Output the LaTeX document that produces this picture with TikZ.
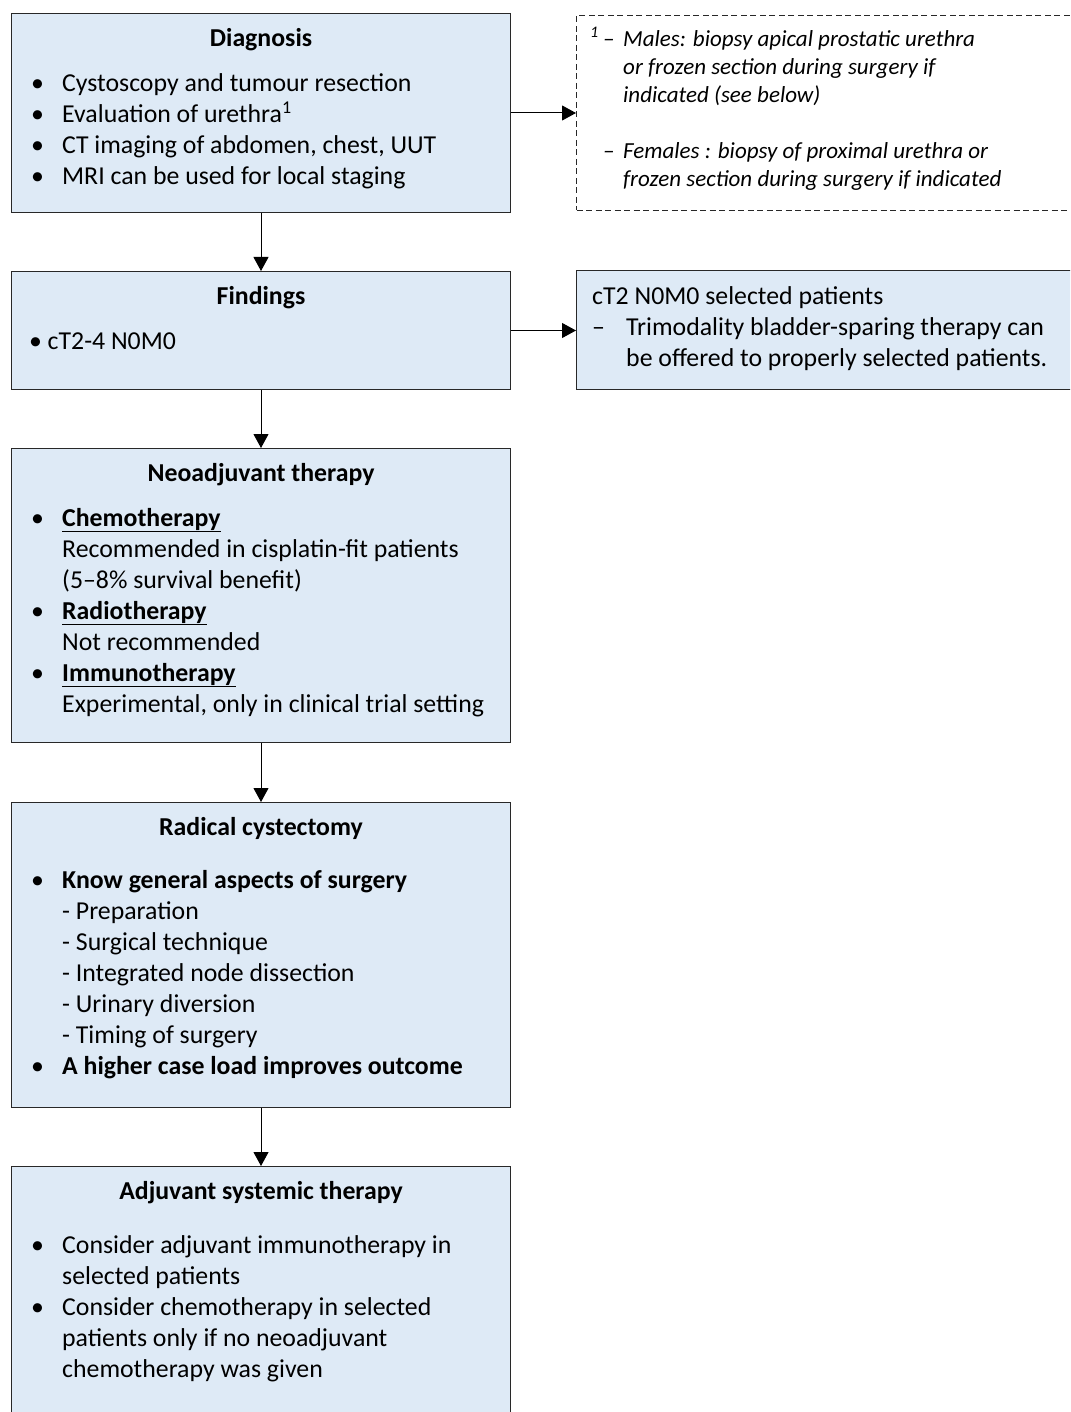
\documentclass[tikz,border=0pt]{standalone}
\usepackage{fontspec}
\setmainfont{Carlito}
\usepackage{tikz}
\usetikzlibrary{arrows.meta}

\definecolor{boxblue}{RGB}{222,234,246}
\definecolor{boxline}{RGB}{40,40,40}
\newcommand{\bul}[1]{\makebox[31pt][l]{\textbullet}#1}
\newcommand{\ind}{\hspace*{31pt}}

\begin{document}
\begin{tikzpicture}[x=1pt,y=-1pt,
    box/.style={draw=boxline, fill=boxblue, line width=1pt, anchor=north west, inner sep=0pt},
    notebox/.style={draw=boxline, line width=1pt, dash pattern=on 6pt off 3.5pt, anchor=north west, inner sep=0pt},
    title/.style={font=\fontsize{25.8}{31}\selectfont\bfseries, anchor=base},
    body/.style={font=\fontsize{25.8}{31}\selectfont, align=left, anchor=north west, inner sep=0pt},
    arr/.style={-{Triangle[length=14pt,width=15pt]}, line width=1pt}]

        \useasboundingbox (0,0) rectangle (1070,1412);
        \clip (0,0) rectangle (1070,1412);

        % boxes of the main column
        \node[box, minimum width=499pt, minimum height=199pt] (diag) at (11,13) {};
        \node[box, minimum width=499pt, minimum height=118pt] (find) at (11,271) {};
        \node[box, minimum width=499pt, minimum height=294pt] (neo) at (11,448) {};
        \node[box, minimum width=499pt, minimum height=305pt] (cyst) at (11,802) {};
        \node[box, minimum width=499pt, minimum height=260pt] (adj) at (11,1166) {};

        % boxes on the right
        \node[notebox, minimum width=510pt, minimum height=195pt] (note) at (576,15) {};
        \node[box, minimum width=510pt, minimum height=119pt] (trimod) at (576,270) {};

        % Diagnosis
        \node[title] (diagtitle) at (261,46.5) {Diagnosis};
        \node[body] (diagtxt) at (31,69.3) {\strut\bul{Cystoscopy and tumour resection}\\
            \bul{Evaluation of urethra\textsuperscript{1}}\\
            \bul{CT imaging of abdomen, chest, UUT}\\
            \bul{MRI can be used for local staging}};

        % footnote
        \node[body, font=\fontsize{23}{28}\selectfont\itshape] (notetxt) at (590,26.4) {\strut\makebox[13pt][l]{\textsuperscript{1}}\makebox[20pt][l]{–}Males: biopsy apical prostatic urethra\\
            \hspace*{33pt}or frozen section during surgery if\\
            \hspace*{33pt}indicated (see below)\\[28pt]
            \hspace*{13pt}\makebox[20pt][l]{–}Females : biopsy of proximal urethra or\\
            \hspace*{33pt}frozen section during surgery if indicated};

        % Findings
        \node[title] (findtitle) at (261,304.5) {Findings};
        \node[body] (findtxt) at (29,327.3) {\strut\makebox[18.5pt][l]{\textbullet}cT2-4 N0M0};

        \node[body] (trimodtxt) at (592,282.3) {\strut cT2 N0M0 selected patients\\
            \makebox[34pt][l]{–}Trimodality bladder-sparing therapy can\\
            \hspace*{34pt}be offered to properly selected patients.};

        % Neoadjuvant therapy
        \node[title] (neotitle) at (261,481.5) {Neoadjuvant therapy};
        \node[body] (neotxt) at (31,504.3) {\strut\bul{\underline{\textbf{Chemotherapy}}}\\
            \ind Recommended in cisplatin-fit patients\\
            \ind (5–8\% survival benefit)\\
            \bul{\underline{\textbf{Radiotherapy}}}\\
            \ind Not recommended\\
            \bul{\underline{\textbf{Immunotherapy}}}\\
            \ind Experimental, only in clinical trial setting};

        % Radical cystectomy
        \node[title] (cysttitle) at (261,835.5) {Radical cystectomy};
        \node[body] (cysttxt) at (31,866.3) {\strut\bul{\textbf{Know general aspects of surgery}}\\
            \ind - Preparation\\
            \ind - Surgical technique\\
            \ind - Integrated node dissection\\
            \ind - Urinary diversion\\
            \ind - Timing of surgery\\
            \bul{\textbf{A higher case load improves outcome}}};

        % Adjuvant systemic therapy
        \node[title] (adjtitle) at (261,1199.5) {Adjuvant systemic therapy};
        \node[body] (adjtxt) at (31,1231.3) {\strut\bul{Consider adjuvant immunotherapy in}\\
            \ind selected patients\\
            \bul{Consider chemotherapy in selected}\\
            \ind patients only if no neoadjuvant\\
            \ind chemotherapy was given};

        % connectors
        \draw[arr] (diag.south) -- (find.north);
        \draw[arr] (find.south) -- (neo.north);
        \draw[arr] (neo.south) -- (cyst.north);
        \draw[arr] (cyst.south) -- (adj.north);
        \draw[arr] (diag.east) -- (diag.east -| note.west);
        \draw[arr] (find.east) -- (find.east -| trimod.west);

\end{tikzpicture}
\end{document}
